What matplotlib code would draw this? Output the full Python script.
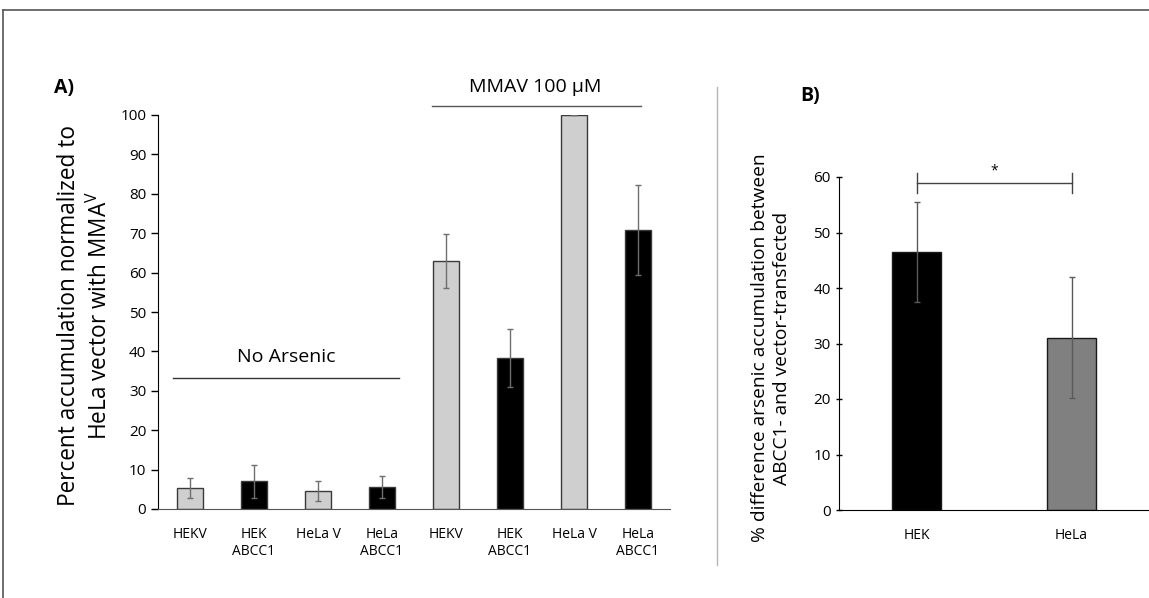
import matplotlib.pyplot as plt
import numpy as np
from matplotlib.lines import Line2D

plt.rcParams["font.family"] = ["Open Sans", "DejaVu Sans"]

# Panel A data
a_labels = ["HEKV", "HEK\nABCC1", "HeLa V", "HeLa\nABCC1",
            "HEKV", "HEK\nABCC1", "HeLa V", "HeLa\nABCC1"]
a_values = [5.3, 7.0, 4.6, 5.6, 63.0, 38.3, 100.0, 70.8]
a_errors = [2.6, 4.1, 2.5, 2.9, 6.9, 7.3, 0.0, 11.5]
a_colors = ["#d0cfd0", "#000000", "#d0cfd0", "#000000",
            "#d0cfd0", "#000000", "#d0cfd0", "#000000"]
a_yticks = [0, 10, 20, 30, 40, 50, 60, 70, 80, 90, 100]

# Panel B data
b_labels = ["HEK", "HeLa"]
b_values = [46.5, 31.0]
b_errors = [9.0, 10.9]
b_colors = ["#000000", "#808080"]
b_yticks = [0, 10, 20, 30, 40, 50, 60]

W, H = 1149, 598
fig = plt.figure(figsize=(W / 100, H / 100), dpi=100)


def fx(px):
    return px / W


def fy(py):
    return 1 - py / H


# ---------- Panel A ----------
ax = fig.add_axes([fx(158), fy(509), fx(670) - fx(158), fy(115) - fy(509)])
xa = np.arange(len(a_values))
ax.bar(xa, a_values, width=0.4, color=a_colors,
       edgecolor="#3a3a3a", linewidth=1.0, zorder=2)
ax.errorbar(xa, a_values, yerr=a_errors, fmt="none",
            ecolor="#6e6e6e", elinewidth=1.0, capsize=2.5, capthick=1.0, zorder=3)
ax.set_xlim(-0.5, len(a_values) - 0.5)
ax.set_ylim(0, 100)
ax.set_yticks(a_yticks)
ax.set_xticks(xa)
ax.set_xticklabels(a_labels, fontsize=10)
ax.tick_params(axis="x", length=0, pad=13)
ax.tick_params(axis="y", length=5, width=1, labelsize=11, direction="out")
for s in ["top", "right"]:
    ax.spines[s].set_visible(False)
ax.spines["left"].set_color("#000000")
ax.spines["bottom"].set_color("#555555")
fig.text(fx(85), fy(315),
         "Percent accumulation normalized to\nHeLa vector with MMA$^{\\mathregular{V}}$",
         rotation=90, ha="center", va="center", multialignment="center",
         fontsize=16.3, linespacing=1.35)

# group annotations
ax.plot([-0.27, 3.27], [33.3, 33.3], color="#333333", lw=1.0, clip_on=False)
ax.text(1.5, 38.5, "No Arsenic", ha="center", va="center", fontsize=14)
ax.plot([3.78, 7.05], [102.3, 102.3], color="#555555", lw=1.0, clip_on=False)
ax.text(5.4, 107.2, "MMAV 100 \u00b5M", ha="center", va="center", fontsize=14)

# ---------- Panel B ----------
bx = fig.add_axes([fx(839), fy(510), 1 - fx(839), fy(177) - fy(510)])
xb = np.arange(len(b_values))
bx.bar(xb, b_values, width=0.32, color=b_colors,
       edgecolor="#1a1a1a", linewidth=1.0, zorder=2)
bx.errorbar(xb, b_values, yerr=b_errors, fmt="none",
            ecolor="#5a5a5a", elinewidth=1.0, capsize=2.5, capthick=1.0, zorder=3)
bx.set_xlim(-0.5, 1.5)
bx.set_ylim(0, 60)
bx.set_yticks(b_yticks)
bx.set_xticks(xb)
bx.set_xticklabels(b_labels, fontsize=10)
bx.tick_params(axis="x", length=0, pad=13)
bx.tick_params(axis="y", length=5, width=1, labelsize=11, direction="inout")
for s in ["top", "right"]:
    bx.spines[s].set_visible(False)
fig.text(fx(771), fy(348),
         "% difference arsenic accumulation between\nABCC1- and vector-transfected",
         rotation=90, ha="center", va="center", multialignment="center",
         fontsize=13.8, linespacing=1.3)

# significance bracket
bx.plot([0, 1], [58.9, 58.9], color="#444444", lw=1.0, clip_on=False)
bx.plot([0, 0], [57.1, 60.7], color="#444444", lw=1.0, clip_on=False)
bx.plot([1, 1], [57.1, 60.7], color="#444444", lw=1.0, clip_on=False)
bx.text(0.5, 61.0, "*", ha="center", va="center", fontsize=10)

# panel letters
fig.text(fx(54), fy(88), "A)", fontsize=14, fontweight="bold", va="center")
fig.text(fx(800), fy(96), "B)", fontsize=14, fontweight="bold", va="center")

# separator and frame
fig.add_artist(Line2D([fx(717), fx(717)], [fy(87), fy(565)], color="#b5b5b5", lw=1.0))
fig.add_artist(Line2D([fx(3), 1], [fy(10), fy(10)], color="#555555", lw=1.2))
fig.add_artist(Line2D([fx(3), fx(3)], [fy(10), 0], color="#555555", lw=1.2))

fig.savefig("out.png", dpi=100)
